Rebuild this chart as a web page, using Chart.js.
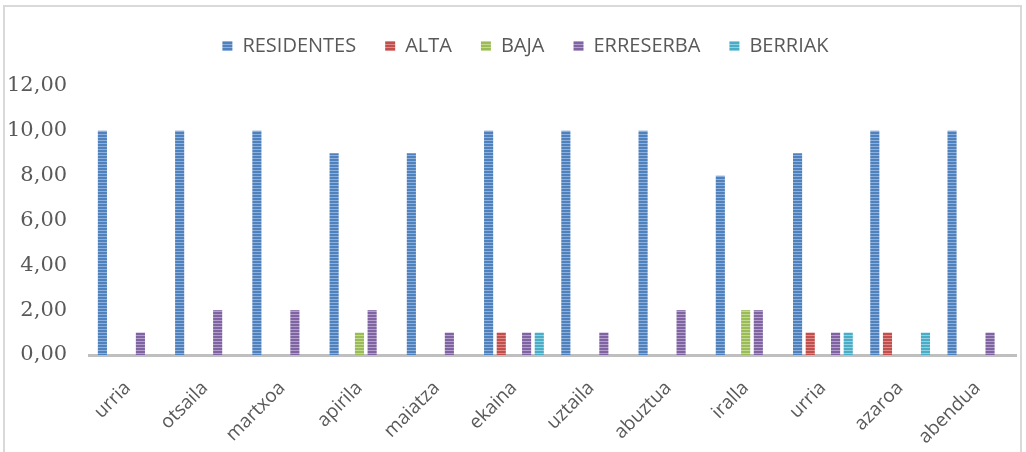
<!DOCTYPE html>
<html>
<head>
<meta charset="utf-8">
<script src="https://cdn.jsdelivr.net/npm/chart.js@4/dist/chart.umd.min.js"></script>
<style>
  html, body { margin:0; padding:0; background:#fff; }
  #wrap { position:absolute; left:3px; top:5px; width:1019px; height:447px; border:2px solid #d9d9d9; border-bottom:none; box-sizing:border-box; }
  #box { position:absolute; left:0; top:0; width:1026px; height:452px; }
</style>
</head>
<body>
<div id="wrap"></div>
<div id="box"><canvas id="c"></canvas></div>
<script>
// Datos mensuales
const months = ['urria','otsaila','martxoa','apirila','maiatza','ekaina','uztaila','abuztua','iralla','urria','azaroa','abendua'];
const residentes = [10,10,10,9,9,10,10,10,8,9,10,10];
const alta       = [0,0,0,0,0,1,0,0,0,1,1,0];
const baja       = [0,0,0,1,0,0,0,0,2,0,0,0];
const erreserba  = [1,2,2,2,1,1,1,2,2,1,0,1];
const berriak    = [0,0,0,0,0,1,0,0,0,1,1,0];
const yTicks = [0,2,4,6,8,10,12];

function stripes(base, light){
  const cv = document.createElement('canvas');
  cv.width = 4; cv.height = 3;
  const g = cv.getContext('2d');
  g.fillStyle = base; g.fillRect(0,0,4,3);
  g.fillStyle = light; g.fillRect(0,2,4,1);
  return g.createPattern(cv, 'repeat');
}

// espacio extra bajo la leyenda y desplazamiento a la derecha
const legendGap = {
  id:'legendGap',
  beforeInit(chart){
    const fit = chart.legend.fit;
    chart.legend.fit = function(){ fit.bind(chart.legend)(); this.height += 20; };
  },
  afterLayout(chart){
    const lg = chart.legend;
    if (lg){ lg.left += 25; lg.right += 25; }
  }
};

const font = "'Open Sans','Liberation Sans',sans-serif";
const mk = (label, data, base, light) => ({ label, data, backgroundColor: stripes(base, light), borderWidth:0, categoryPercentage:0.82, barPercentage:0.72 });

new Chart(document.getElementById('c'), {
  type:'bar',
  data:{
    labels: months,
    datasets:[
      mk('RESIDENTES', residentes, '#4f81bd', '#8eb0dc'),
      mk('ALTA', alta, '#c0504d', '#e08a88'),
      mk('BAJA', baja, '#9bbb59', '#c3da93'),
      mk('ERRESERBA', erreserba, '#8064a2', '#b29fcb'),
      mk('BERRIAK', berriak, '#4bacc6', '#8fd0e2')
    ]
  },
  options:{
    responsive:true, maintainAspectRatio:false, animation:false,
    layout:{ padding:{ left:-15, right:10, top:7, bottom:0 } },
    plugins:{
      legend:{ position:'top', labels:{ boxWidth:10, boxHeight:10, padding:29, color:'#595959', font:{ family:font, size:20 } } },
      tooltip:{ enabled:false }
    },
    scales:{
      x:{
        afterFit: ax => { ax.height = 97; },
        grid:{ display:false, drawTicks:false },
        border:{ display:true, color:'#bfbfbf', width:3 },
        ticks:{ color:'#595959', font:{ family:font, size:19 }, minRotation:45, maxRotation:45, padding:22 }
      },
      y:{
        min:0, max:12,
        afterBuildTicks: ax => { ax.ticks = yTicks.map(v => ({ value:v })); },
        grid:{ display:false, drawTicks:false },
        border:{ display:false },
        ticks:{ color:'#595959', font:{ family:"'DejaVu Serif',serif", size:21 }, padding:22, callback: v => v.toFixed(2).replace('.', ',') }
      }
    }
  },
  plugins:[legendGap]
});
</script>
</body>
</html>
